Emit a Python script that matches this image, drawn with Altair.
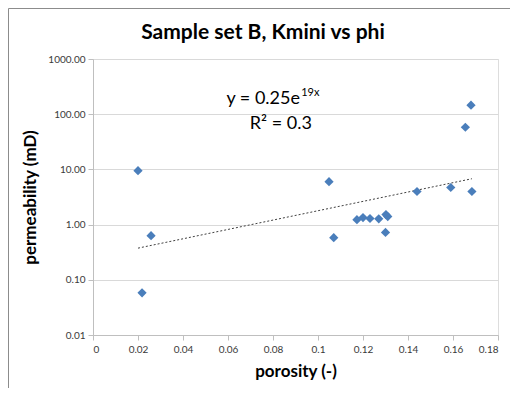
import altair as alt
import pandas as pd

# data
porosity = [0.020, 0.0258, 0.0218, 0.1049, 0.107, 0.1173, 0.120, 0.1231, 0.127,
            0.1302, 0.131, 0.130, 0.144, 0.159, 0.1684, 0.168, 0.1655]
permeability = [9.5, 0.63, 0.058, 6.0, 0.58, 1.23, 1.34, 1.29, 1.27,
                1.52, 1.40, 0.72, 3.98, 4.7, 3.98, 146, 58]

x_ticks = [0, 0.02, 0.04, 0.06, 0.08, 0.10, 0.12, 0.14, 0.16, 0.18]
y_ticks = [0.01, 0.1, 1, 10, 100, 1000]

title_text = ["Sample set B, Kmini vs phi"]
eq_main = ["y = 0.25e"]
eq_sup = ["19x"]
eq_r2 = ["R² = 0.3"]

FONT = "Lato"
W, H = 405, 276

df = pd.DataFrame({"phi": porosity, "k": permeability})

xscale = alt.Scale(domain=[0, 0.18], nice=False, zero=False)
yscale = alt.Scale(type="log", domain=[0.01, 1000], nice=False)

common = dict(labelFont=FONT, labelFontSize=10, labelColor="#3a3a3a",
              titleFont=FONT, titleFontSize=17, titleFontWeight="bold",
              titleColor="#000000", domainColor="#bfbfbf", tickColor="#bfbfbf",
              gridColor="#d9d9d9", tickSize=5)

xaxis = alt.Axis(title="porosity (-)", values=x_ticks, format="~g", grid=False,
                 labelPadding=4, titlePadding=9, **common)
yaxis = alt.Axis(title="permeability (mD)", values=y_ticks, format=".2f", grid=True,
                 labelPadding=3, titlePadding=8, **common)

base = alt.Chart(df)

points = base.mark_point(shape="diamond", filled=True, size=85, opacity=1,
                         color="#4A7EBB").encode(
    x=alt.X("phi:Q", scale=xscale, axis=xaxis),
    y=alt.Y("k:Q", scale=yscale, axis=yaxis),
)

trend = base.transform_calculate(lnk="log(datum.k)").transform_regression(
    "phi", "lnk", method="linear"
).transform_calculate(k="exp(datum.lnk)").mark_line(
    color="#404040", strokeWidth=1, strokeDash=[2, 2]
).encode(
    x=alt.X("phi:Q", scale=xscale),
    y=alt.Y("k:Q", scale=yscale),
)

ann_main = alt.Chart(pd.DataFrame({"t": eq_main, "x": [0.092], "y": [150.0]})).mark_text(
    font=FONT, fontSize=18, align="right", baseline="alphabetic", color="#000000"
).encode(x=alt.X("x:Q", scale=xscale), y=alt.Y("y:Q", scale=yscale), text="t:N")

ann_sup = alt.Chart(pd.DataFrame({"t": eq_sup, "x": [0.0925], "y": [215.0]})).mark_text(
    font=FONT, fontSize=11, align="left", baseline="alphabetic", color="#000000"
).encode(x=alt.X("x:Q", scale=xscale), y=alt.Y("y:Q", scale=yscale), text="t:N")

ann_r2 = alt.Chart(pd.DataFrame({"t": eq_r2, "x": [0.0835], "y": [54.0]})).mark_text(
    font=FONT, fontSize=18, align="center", baseline="alphabetic", color="#000000"
).encode(x=alt.X("x:Q", scale=xscale), y=alt.Y("y:Q", scale=yscale), text="t:N")

title = alt.Chart(pd.DataFrame({"t": title_text})).mark_text(
    font=FONT, fontSize=21, fontWeight="bold", align="center", baseline="alphabetic",
    color="#000000"
).encode(x=alt.value(170), y=alt.value(-20), text="t:N")

frame = alt.Chart(pd.DataFrame({"a": [0]})).mark_rect(
    filled=False, stroke="#8c8c8c", strokeWidth=1
).encode(x=alt.value(-84.5), x2=alt.value(440), y=alt.value(-50.5), y2=alt.value(360))

chart = alt.layer(frame, trend, points, ann_main, ann_sup, ann_r2, title).properties(
    width=W, height=H,
    autosize=alt.AutoSizeParams(type="none"),
    padding={"left": 85, "top": 51, "right": 12, "bottom": 53},
).configure_view(stroke=None).configure(background="white")

chart.save("out.html", embed_options={"renderer": "svg", "actions": False})
